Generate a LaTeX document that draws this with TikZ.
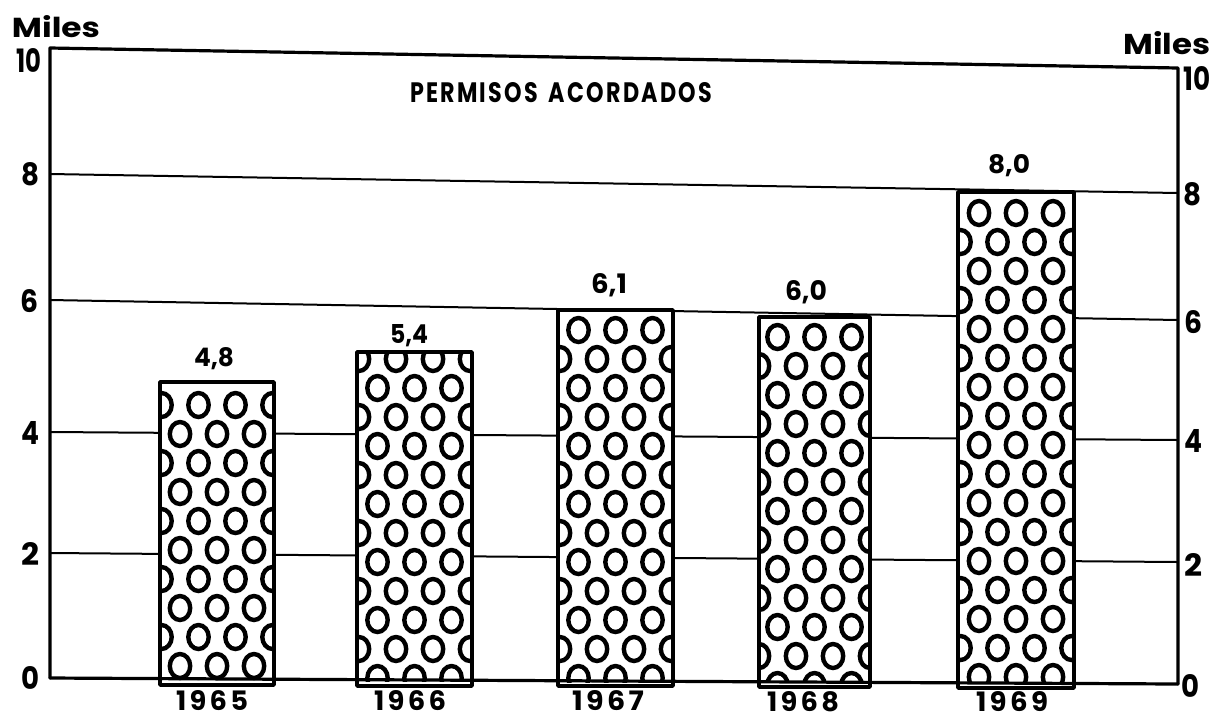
\documentclass[tikz,border=0pt]{standalone}
\usepackage{fontspec}
\usepackage{graphicx}
\setmainfont{Poppins}
\newfontfamily\spaced[LetterSpace=12]{Poppins}
\newfontfamily\titlefont[LetterSpace=10]{Poppins}
\newcommand\tb[3]{\resizebox{#1pt}{#2pt}{#3}}
\tikzset{
  frame/.style={line width=1.6pt, line cap=round, line join=round},
  grid/.style={line width=1pt},
  barline/.style={line width=1.8pt, line join=round},
  circ/.style={line width=2.2pt},
  lab/.style={inner sep=0pt, anchor=base},
}
\newcommand\pbar[8]{% name x1 x2 top bottom firstrow parity clipbottom
  \begin{scope}
    \fill[white] (#2,#4) rectangle (#3,#5);
    \clip (#2,#4) rectangle (#3,#8);
    \pgfmathsetmacro\cx{(#2+#3)/2}
    \foreach \r in {0,...,18} {
      \pgfmathsetmacro\yy{#6+29*\r}
      \pgfmathtruncatemacro\odd{mod(\r+#7,2)}
      \ifnum\odd=0
        \foreach \k in {-1,0,1} \draw[circ] (\cx+37*\k,\yy) ellipse [x radius=5.1pt, y radius=6pt];
      \else
        \foreach \k in {-1.5,-0.5,0.5,1.5} \draw[circ] (\cx+37*\k,\yy) ellipse [x radius=5.1pt, y radius=6pt];
      \fi
    }
  \end{scope}
  \node[draw, barline, inner sep=0pt, fit={(#2,#4) (#3,#5)}] (#1) {};
}
\usetikzlibrary{fit}
\begin{document}
\begin{tikzpicture}[x=0.5pt, y=-0.5pt]
\useasboundingbox (0,0) rectangle (1218,719);
% gridlines
\coordinate (L10) at (50,48);  \coordinate (R10) at (1178,68);
\coordinate (L8) at (50,174);  \coordinate (R8) at (1178,193);
\coordinate (L6) at (50,300);  \coordinate (R6) at (1178,320);
\coordinate (L4) at (50,432);  \coordinate (R4) at (1178,440);
\coordinate (L2) at (50,553);  \coordinate (R2) at (1178,562);
\coordinate (L0) at (50,678);  \coordinate (R0) at (1178,684);
\foreach \v in {8,6,4,2} \draw[grid] (L\v) -- (R\v);
\draw[frame] (L0) -- (L10) -- (R10) -- (R0);
% bars
\pbar{b65}{160}{274}{382}{685}{405}{1}{680}
\pbar{b66}{357}{472}{352}{686}{359}{1}{681}
\pbar{b67}{558}{673}{310}{686}{330}{0}{682}
\pbar{b68}{759}{870}{317}{687}{337}{0}{682}
\pbar{b69}{958}{1074}{192}{688}{213}{0}{683}
\draw[frame] (L0) -- (R0);
% value labels
\node[lab] (v65) at (214,366) {\tb{20}{9.5}{\bfseries 4,8}};
\node[lab] (v66) at (409,343) {\tb{19}{9.5}{\bfseries 5,4}};
\node[lab] (v67) at (609,293) {\tb{18}{10}{\bfseries 6,1}};
\node[lab] (v68) at (806,300) {\tb{21}{10}{\bfseries 6,0}};
\node[lab] (v69) at (1009,173) {\tb{21}{9.5}{\bfseries 8,0}};
% years
\node[lab] (y65) at (212,710) {\tb{36}{10}{\spaced\bfseries 1965}};
\node[lab] (y66) at (410,710) {\tb{36}{10}{\spaced\bfseries 1966}};
\node[lab] (y67) at (608,710) {\tb{36}{10}{\spaced\bfseries 1967}};
\node[lab] (y68) at (803,711) {\tb{36}{10}{\spaced\bfseries 1968}};
\node[lab] (y69) at (1012,711) {\tb{36}{10}{\spaced\bfseries 1969}};
% title
\node[lab] (title) at (561,102) {\tb{151}{10}{\titlefont\bfseries PERMISOS\hspace{0.5em}ACORDADOS}};
% axis labels
\node[lab] (ml) at (56,37) {\tb{44}{11}{\bfseries Miles}};
\node[lab] (mr) at (1167,54) {\tb{43.5}{11.5}{\bfseries Miles}};
\node[lab] (l10) at (29,72) {\tb{12.5}{12}{\bfseries 10}};
\node[lab] (l8) at (31,185) {\tb{9}{11.5}{\bfseries 8}};
\node[lab] (l6) at (30,312) {\tb{9}{11.5}{\bfseries 6}};
\node[lab] (l4) at (30,444) {\tb{9}{11.5}{\bfseries 4}};
\node[lab] (l2) at (30,565) {\tb{9}{11.5}{\bfseries 2}};
\node[lab] (l0) at (30,689) {\tb{9}{11.5}{\bfseries 0}};
\node[lab] (r10) at (1197,90) {\tb{13.5}{12}{\bfseries 10}};
\node[lab] (r8) at (1192,205) {\tb{9}{11.5}{\bfseries 8}};
\node[lab] (r6) at (1193,333) {\tb{9}{11.5}{\bfseries 6}};
\node[lab] (r4) at (1193,452) {\tb{9}{11.5}{\bfseries 4}};
\node[lab] (r2) at (1193,576) {\tb{9}{11.5}{\bfseries 2}};
\node[lab] (r0) at (1190,697) {\tb{9}{11.5}{\bfseries 0}};
\end{tikzpicture}
\end{document}
